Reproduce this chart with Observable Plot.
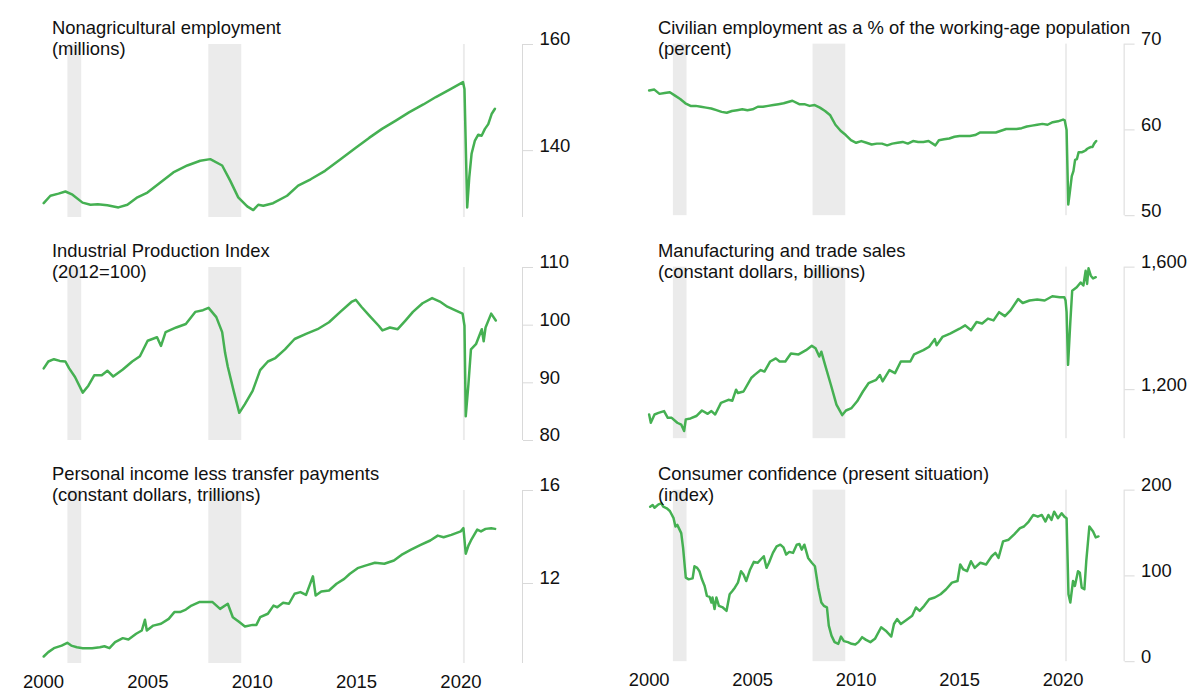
<!DOCTYPE html>
<html><head><meta charset="utf-8">
<script src="https://cdn.jsdelivr.net/npm/d3@7"></script>
<script src="https://cdn.jsdelivr.net/npm/@observablehq/plot@0.6"></script>
<style>
body{margin:0;background:#fff;}
#root{position:relative;width:1201px;height:694px;overflow:hidden;font-family:"Liberation Sans",Arial,Helvetica,sans-serif;}
.panel{position:absolute;}
.title{position:absolute;font-size:18.4px;line-height:20.5px;color:#111;white-space:nowrap;}
</style></head><body><div id="root"></div>
<script>
// ---------- data ----------
const xTicks = [2000, 2005, 2010, 2015, 2020];
const recStart = [2001.17, 2007.92, 2020.12];
const recEnd   = [2001.83, 2009.50, 2020.21];

const titles1 = ["Nonagricultural employment", "Civilian employment as a % of the working-age population", "Industrial Production Index", "Manufacturing and trade sales", "Personal income less transfer payments", "Consumer confidence (present situation)"];
const titles2 = ["(millions)", "(percent)", "(2012=100)", "(constant dollars, billions)", "(constant dollars, trillions)", "(index)"];

const yDomains = [[127.4, 160], [50, 70], [80, 110], [1040, 1600], [8.56, 16], [0, 200]];
const yTicks = [[140, 160], [50, 60, 70], [80, 90, 100, 110], [1200, 1600], [12, 16], [0, 100, 200]];

// Nonagricultural employment (millions)
const payrollDates = [2000.01,2000.33,2000.72,2001.05,2001.39,2001.87,2002.25,2002.6,2003.06,2003.59,2004.02,2004.5,2004.98,2005.6,2006.22,2006.89,2007.51,2007.99,2008.56,2008.95,2009.33,2009.76,2010.05,2010.29,2010.53,2011.0,2011.67,2012.2,2012.8,2013.49,2014.2,2014.98,2015.6,2016.22,2016.9,2017.51,2018.2,2018.8,2019.5,2020.1,2020.17,2020.3,2020.4,2020.51,2020.67,2020.83,2020.99,2021.15,2021.31,2021.47,2021.63];
const payrollValues = [130.1,131.5,131.9,132.3,131.7,130.2,129.8,129.9,129.7,129.3,129.8,131.2,132.1,134.0,135.9,137.2,138.1,138.4,137.2,134.3,131.2,129.5,128.8,129.8,129.6,130.1,131.5,133.4,134.6,136.2,138.3,140.6,142.4,144.1,145.7,147.2,148.7,150.1,151.6,152.9,151.6,129.3,135.0,139.4,141.9,143.0,142.8,144.1,145.0,146.9,147.9];

// Civilian employment-population ratio (percent)
const empPopDates = [2000.0,2000.25,2000.5,2000.75,2001.0,2001.25,2001.5,2001.75,2002.0,2002.25,2002.5,2002.75,2003.0,2003.25,2003.5,2003.75,2004.0,2004.25,2004.5,2004.75,2005.0,2005.25,2005.5,2005.75,2006.0,2006.25,2006.5,2006.92,2007.25,2007.5,2007.75,2008.0,2008.25,2008.5,2008.75,2009.0,2009.25,2009.5,2009.75,2010.0,2010.25,2010.5,2010.75,2011.0,2011.25,2011.5,2011.75,2012.0,2012.25,2012.5,2012.75,2013.0,2013.25,2013.5,2013.83,2014.0,2014.25,2014.5,2014.75,2015.0,2015.25,2015.5,2015.75,2016.0,2016.25,2016.5,2016.75,2017.0,2017.25,2017.5,2017.75,2018.0,2018.25,2018.5,2018.75,2019.0,2019.25,2019.5,2019.75,2020.0,2020.08,2020.17,2020.25,2020.33,2020.42,2020.5,2020.58,2020.67,2020.75,2020.83,2020.92,2021.0,2021.08,2021.17,2021.25,2021.33,2021.42,2021.5,2021.6];
const empPopValues = [64.6,64.7,64.2,64.3,64.4,64.0,63.6,63.1,62.8,62.8,62.7,62.6,62.5,62.3,62.1,62.0,62.2,62.3,62.4,62.3,62.4,62.7,62.7,62.8,62.9,63.0,63.1,63.4,63.0,63.0,62.8,62.9,62.6,62.2,61.7,60.6,59.9,59.4,58.8,58.5,58.7,58.5,58.3,58.4,58.4,58.2,58.4,58.5,58.6,58.4,58.7,58.6,58.6,58.7,58.2,58.8,58.9,59.0,59.2,59.3,59.3,59.3,59.4,59.7,59.7,59.7,59.7,59.9,60.1,60.1,60.1,60.2,60.4,60.5,60.6,60.7,60.6,60.9,61.0,61.2,61.1,60.0,51.3,52.8,54.6,55.2,56.5,56.6,57.4,57.4,57.4,57.5,57.6,57.8,57.9,58.0,58.0,58.4,58.7];

// Industrial Production Index (2012=100)
const ipDates = [2000.01,2000.23,2000.5,2000.78,2001.05,2001.23,2001.51,2001.88,2002.15,2002.43,2002.79,2003.06,2003.34,2003.8,2004.25,2004.62,2004.99,2005.44,2005.63,2005.85,2006.36,2006.82,2007.27,2007.64,2007.91,2008.28,2008.56,2008.7,2008.83,2009.11,2009.38,2009.65,2010.02,2010.38,2010.75,2011.11,2011.57,2012.03,2012.58,2013.13,2013.68,2014.22,2014.78,2014.96,2015.23,2015.6,2016.06,2016.24,2016.6,2016.97,2017.34,2017.7,2018.16,2018.62,2018.99,2019.35,2019.71,2020.08,2020.17,2020.23,2020.36,2020.48,2020.72,2021.0,2021.09,2021.18,2021.45,2021.67];
const ipValues = [92.5,93.7,94.1,93.8,93.7,92.5,91.0,88.3,89.5,91.3,91.3,92.1,91.1,92.3,93.7,94.6,97.3,97.9,96.4,98.8,99.6,100.2,102.3,102.6,103.0,101.4,98.8,95.2,92.8,88.6,84.8,86.3,88.6,92.2,93.7,94.3,95.8,97.6,98.5,99.3,100.5,102.3,104.1,104.4,103.2,101.7,99.9,99.1,99.6,99.3,100.8,102.3,103.8,104.7,104.1,103.2,102.6,102.0,99.9,84.2,89.8,95.8,96.7,99.3,97.2,99.6,102.0,100.8];

// Manufacturing and trade sales (constant dollars, billions)
const salesDates = [2000.0,2000.08,2000.26,2000.45,2000.72,2000.9,2001.09,2001.36,2001.55,2001.69,2001.77,2002.0,2002.28,2002.55,2002.83,2003.01,2003.19,2003.47,2003.83,2004.02,2004.2,2004.29,2004.56,2004.93,2005.11,2005.39,2005.57,2005.85,2006.12,2006.3,2006.58,2006.85,2007.22,2007.58,2007.86,2008.04,2008.22,2008.32,2008.5,2008.78,2009.05,2009.33,2009.51,2009.78,2010.05,2010.33,2010.6,2010.97,2011.15,2011.28,2011.61,2011.88,2012.16,2012.62,2012.8,2013.25,2013.53,2013.8,2013.89,2014.17,2014.54,2015.0,2015.27,2015.55,2015.82,2016.09,2016.37,2016.64,2016.91,2017.19,2017.46,2017.83,2018.05,2018.38,2018.75,2019.11,2019.48,2019.84,2020.06,2020.12,2020.17,2020.24,2020.35,2020.44,2020.66,2020.85,2020.98,2021.09,2021.16,2021.23,2021.34,2021.45,2021.58];
const salesValues = [1119,1092,1119,1124,1130,1108,1108,1092,1086,1065,1103,1106,1114,1132,1121,1130,1119,1157,1167,1164,1200,1189,1194,1238,1249,1264,1259,1292,1302,1292,1292,1318,1315,1329,1343,1335,1308,1324,1281,1216,1151,1117,1132,1140,1162,1194,1221,1232,1248,1227,1264,1254,1292,1292,1315,1329,1340,1365,1345,1372,1383,1399,1410,1394,1421,1416,1432,1426,1453,1440,1459,1496,1483,1491,1494,1491,1505,1502,1502,1491,1453,1281,1421,1523,1534,1550,1540,1588,1545,1596,1572,1563,1567];

// Personal income less transfer payments (constant dollars, trillions)
const incomeDates = [2000.01,2000.23,2000.5,2000.87,2001.14,2001.33,2001.6,2001.88,2002.33,2002.7,2002.92,2003.16,2003.43,2003.8,2004.07,2004.44,2004.71,2004.86,2004.95,2005.26,2005.63,2006.0,2006.27,2006.54,2006.82,2007.09,2007.46,2007.91,2008.1,2008.46,2008.83,2009.07,2009.38,2009.65,2010.02,2010.2,2010.38,2010.75,2011.02,2011.2,2011.48,2011.76,2012.03,2012.31,2012.58,2012.91,2013.04,2013.31,2013.68,2014.04,2014.41,2014.68,2015.05,2015.42,2015.88,2016.33,2016.79,2017.15,2017.61,2018.07,2018.53,2018.89,2019.17,2019.54,2019.99,2020.12,2020.23,2020.36,2020.48,2020.78,2020.96,2021.18,2021.45,2021.64];
const incomeValues = [8.86,9.05,9.22,9.33,9.45,9.33,9.26,9.22,9.22,9.26,9.30,9.22,9.48,9.65,9.59,9.84,9.98,10.44,9.98,10.19,10.27,10.48,10.77,10.77,10.88,11.05,11.20,11.20,11.20,10.91,11.13,10.55,10.34,10.15,10.22,10.22,10.55,10.70,11.05,10.98,11.17,11.13,11.56,11.63,11.51,12.31,11.48,11.66,11.70,11.99,12.20,12.42,12.66,12.77,12.89,12.85,12.99,13.23,13.46,13.66,13.85,14.06,13.99,14.09,14.24,14.38,13.28,13.63,13.85,14.32,14.24,14.35,14.38,14.35];

// Consumer confidence, present situation (index)
const confDates = [2000.05,2000.17,2000.26,2000.45,2000.59,2000.68,2000.85,2001.0,2001.18,2001.27,2001.36,2001.55,2001.64,2001.77,2001.91,2002.1,2002.19,2002.32,2002.43,2002.55,2002.68,2002.79,2002.92,2003.01,2003.06,2003.16,2003.25,2003.37,2003.56,2003.74,2003.89,2004.02,2004.14,2004.29,2004.44,2004.56,2004.69,2004.88,2005.06,2005.24,2005.39,2005.54,2005.67,2005.79,2005.98,2006.16,2006.34,2006.49,2006.62,2006.77,2006.95,2007.13,2007.26,2007.37,2007.5,2007.68,2007.86,2008.01,2008.17,2008.32,2008.44,2008.59,2008.68,2008.81,2008.96,2009.14,2009.27,2009.41,2009.6,2009.78,2009.96,2010.11,2010.29,2010.48,2010.69,2010.91,2011.21,2011.43,2011.7,2011.83,2011.98,2012.16,2012.43,2012.71,2012.89,2013.07,2013.29,2013.53,2013.8,2014.08,2014.35,2014.63,2014.9,2015.03,2015.18,2015.36,2015.55,2015.73,2016.0,2016.28,2016.55,2016.73,2016.88,2017.1,2017.37,2017.65,2017.92,2018.11,2018.34,2018.56,2018.78,2018.97,2019.15,2019.29,2019.44,2019.57,2019.75,2019.93,2020.06,2020.17,2020.26,2020.35,2020.48,2020.57,2020.72,2020.81,2020.9,2021.03,2021.12,2021.27,2021.45,2021.58,2021.71];
const confValues = [180.7,182.7,179.5,183.4,184.6,180.7,178.8,175.7,167.3,157.6,159.5,149.9,132.6,97.9,96.0,97.1,111.3,109.4,105.5,96.0,88.3,76.7,75.6,69.0,74.8,61.3,74.8,65.1,63.2,59.3,78.6,82.4,86.3,92.1,105.5,101.7,94.0,107.5,116.4,115.3,119.1,122.9,109.4,115.3,126.8,134.5,136.4,133.3,124.9,128.0,126.8,136.4,137.2,130.6,136.4,121.0,115.3,111.3,86.3,69.0,65.1,63.2,42.0,30.4,22.8,20.8,29.3,24.0,22.8,20.8,20.0,22.8,28.6,25.4,22.8,26.6,40.1,36.2,29.3,43.9,49.7,43.9,48.6,53.5,63.2,59.3,65.1,72.8,74.8,78.6,84.4,92.1,94.0,113.3,107.5,105.5,117.1,109.4,115.3,113.3,122.9,126.8,121.0,140.2,142.2,148.8,155.7,157.6,163.4,171.1,169.1,171.1,163.4,171.1,165.3,174.9,167.3,173.0,169.1,167.3,78.6,69.0,94.0,88.3,105.5,103.7,86.3,84.4,117.1,157.6,151.8,144.9,146.0];

const seriesDates = [payrollDates, empPopDates, ipDates, salesDates, incomeDates, confDates];
const seriesValues = [payrollValues, empPopValues, ipValues, salesValues, incomeValues, confValues];
const yFormats = [d3.format("d"), d3.format("d"), d3.format("d"), d3.format(","), d3.format("d"), d3.format("d")];

// ---------- layout ----------
const FONT = '"Liberation Sans", Arial, Helvetica, sans-serif';
const GREEN = "#45b052";
const colLeft = [0, 606];
const rowTop = [0, 223, 446];
const xMax = 2022.95;
const root = document.getElementById("root");
const recessions = recStart.map((s, j) => ({s, e: recEnd[j]}));

for (let k = 0; k < 6; k++) {
  const col = k % 2, row = Math.floor(k / 2);
  const bottom = row === 2;
  const chart = Plot.plot({
    width: 600,
    height: bottom ? 248 : 222,
    marginTop: 44, marginLeft: 43, marginRight: 78, marginBottom: bottom ? 31 : 5,
    style: {fontFamily: FONT, fontSize: "18.5px", color: "#111", background: "transparent", overflow: "visible"},
    x: bottom ? {domain: [2000, xMax]} : {domain: [2000, xMax], axis: null},
    y: {domain: yDomains[k]},
    marks: [
      Plot.rect(recessions, {x1: "s", x2: "e", fill: "#ebebeb"}),
      Plot.ruleX([xMax], {stroke: "#d9d9d9", strokeWidth: 1}),
      Plot.axisY(yTicks[k], {anchor: "right", tickSize: 10, fill: "none", stroke: "#d9d9d9", label: null}),
      Plot.axisY(yTicks[k], {anchor: "right", tickSize: 0, tickPadding: 17, dy: -5, tickFormat: yFormats[k], fill: "#111", label: null}),
      Plot.line(seriesValues[k], {x: seriesDates[k], y: seriesValues[k], stroke: GREEN, strokeWidth: 2.5, strokeLinejoin: "round"}),
      bottom ? Plot.axisX(xTicks, {anchor: "bottom", tickSize: 0, tickPadding: 11, tickFormat: d => String(d), fill: "#111", label: null}) : null
    ]
  });
  const wrap = document.createElement("div");
  wrap.className = "panel";
  wrap.style.left = colLeft[col] + "px";
  wrap.style.top = rowTop[row] + "px";
  wrap.appendChild(chart);
  root.appendChild(wrap);

  const t = document.createElement("div");
  t.className = "title";
  t.style.left = (colLeft[col] + 52) + "px";
  t.style.top = (rowTop[row] + 18) + "px";
  const l1 = document.createElement("div"); l1.textContent = titles1[k];
  const l2 = document.createElement("div"); l2.textContent = titles2[k];
  t.appendChild(l1); t.appendChild(l2);
  root.appendChild(t);
}
</script></body></html>
